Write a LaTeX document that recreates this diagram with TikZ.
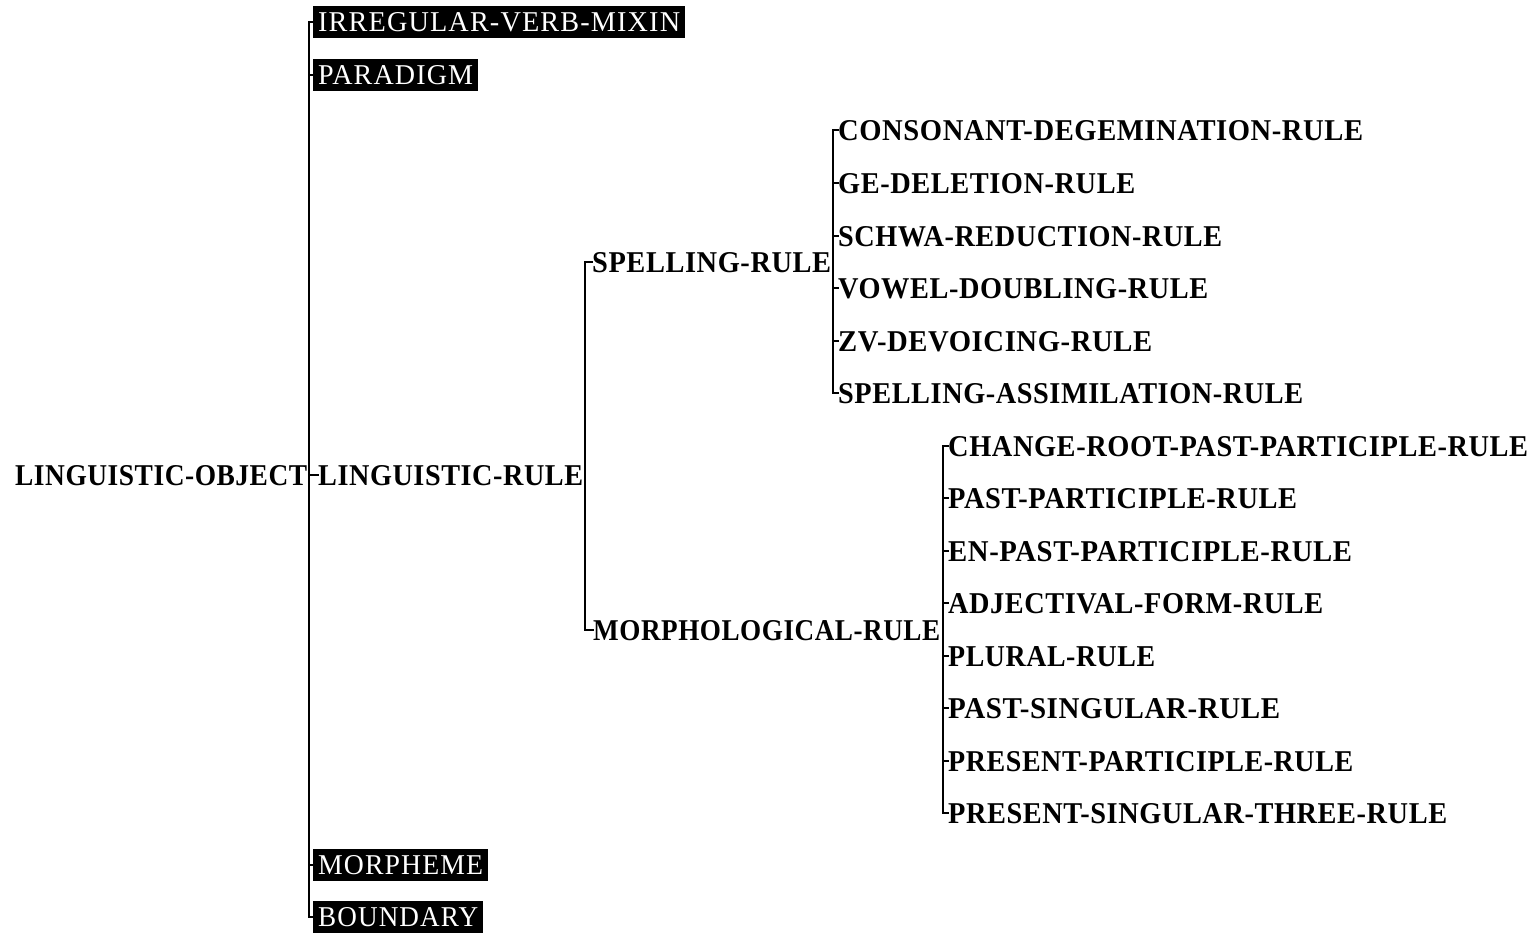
\documentclass[tikz,border=0pt]{standalone}
\usepackage{fontspec}
\usepackage{graphicx}
\setmainfont{Liberation Serif}
\newfontfamily\classfont[LetterSpace=2.0]{Liberation Serif}
\newfontfamily\mixinfont[LetterSpace=4.0]{Liberation Serif}
% a class name set to a given width and cap height
\newcommand\clsname[2]{\resizebox{#1pt}{20pt}{#2}}
\newcommand\mixname[2]{\resizebox{#1pt}{19pt}{#2}}
\begin{document}
\begin{tikzpicture}[x=1pt,y=-1pt,
  cls/.style={inner sep=0pt, text height=20pt, text depth=0pt, anchor=west,
    font=\classfont\bfseries\fontsize{28}{28}\selectfont},
  mixin/.style={fill=black, text=white, inner xsep=5pt, inner ysep=6.5pt,
    text height=19pt, text depth=0pt, anchor=west,
    font=\mixinfont\fontsize{28}{28}\selectfont},
  link/.style={line width=1.8pt, line join=miter, line cap=rect}]
\useasboundingbox (0,0) rectangle (1538,935);

% branch points of the hierarchy
\coordinate (b1) at (309,475);
\coordinate (b2) at (585,475);
\coordinate (b3) at (833,262);
\coordinate (b4) at (943,630);

% root
\node[cls] (obj) at (15,475) {\clsname{292}{LINGUISTIC-OBJECT}};

% first level
\node[mixin] (irr)   at (313,22)  {\mixname{362}{IRREGULAR-VERB-MIXIN}};
\node[mixin] (para)  at (313,75)  {\mixname{155}{PARADIGM}};
\node[cls]   (lrule) at (318,475) {\clsname{265}{LINGUISTIC-RULE}};
\node[mixin] (morph) at (313,865) {\mixname{165}{MORPHEME}};
\node[mixin] (bound) at (313,917) {\mixname{160}{BOUNDARY}};

% second level
\node[cls] (spell) at (592,262) {\clsname{239}{SPELLING-RULE}};
\node[cls] (morr)  at (593,630) {\clsname{347}{MORPHOLOGICAL-RULE}};

% spelling rules
\node[cls] (s1) at (838,130) {\clsname{525}{CONSONANT-DEGEMINATION-RULE}};
\node[cls] (s2) at (838,183) {\clsname{297}{GE-DELETION-RULE}};
\node[cls] (s3) at (838,236) {\clsname{384}{SCHWA-REDUCTION-RULE}};
\node[cls] (s4) at (838,288) {\clsname{370}{VOWEL-DOUBLING-RULE}};
\node[cls] (s5) at (838,341) {\clsname{314}{ZV-DEVOICING-RULE}};
\node[cls] (s6) at (838,393) {\clsname{465}{SPELLING-ASSIMILATION-RULE}};

% morphological rules
\node[cls] (m1) at (948,446) {\clsname{580}{CHANGE-ROOT-PAST-PARTICIPLE-RULE}};
\node[cls] (m2) at (948,498) {\clsname{349}{PAST-PARTICIPLE-RULE}};
\node[cls] (m3) at (948,551) {\clsname{404}{EN-PAST-PARTICIPLE-RULE}};
\node[cls] (m4) at (948,603) {\clsname{375}{ADJECTIVAL-FORM-RULE}};
\node[cls] (m5) at (948,656) {\clsname{207}{PLURAL-RULE}};
\node[cls] (m6) at (948,708) {\clsname{332}{PAST-SINGULAR-RULE}};
\node[cls] (m7) at (948,761) {\clsname{405}{PRESENT-PARTICIPLE-RULE}};
\node[cls] (m8) at (948,813) {\clsname{499}{PRESENT-SINGULAR-THREE-RULE}};

% brackets
\draw[link] (irr.west) -- (b1 |- irr.west) -- (b1 |- bound.west) -- (bound.west);
\foreach \c in {para,lrule,morph} \draw[link] (b1 |- \c.west) -- (\c.west);

\draw[link] (spell.west) -- (b2 |- spell.west) -- (b2 |- morr.west) -- (morr.west);

\draw[link] (s1.west) -- (b3 |- s1.west) -- (b3 |- s6.west) -- (s6.west);
\foreach \c in {s2,s3,s4,s5} \draw[link] (b3 |- \c.west) -- (\c.west);

\draw[link] (m1.west) -- (b4 |- m1.west) -- (b4 |- m8.west) -- (m8.west);
\foreach \c in {m2,m3,m4,m5,m6,m7} \draw[link] (b4 |- \c.west) -- (\c.west);
\end{tikzpicture}
\end{document}
